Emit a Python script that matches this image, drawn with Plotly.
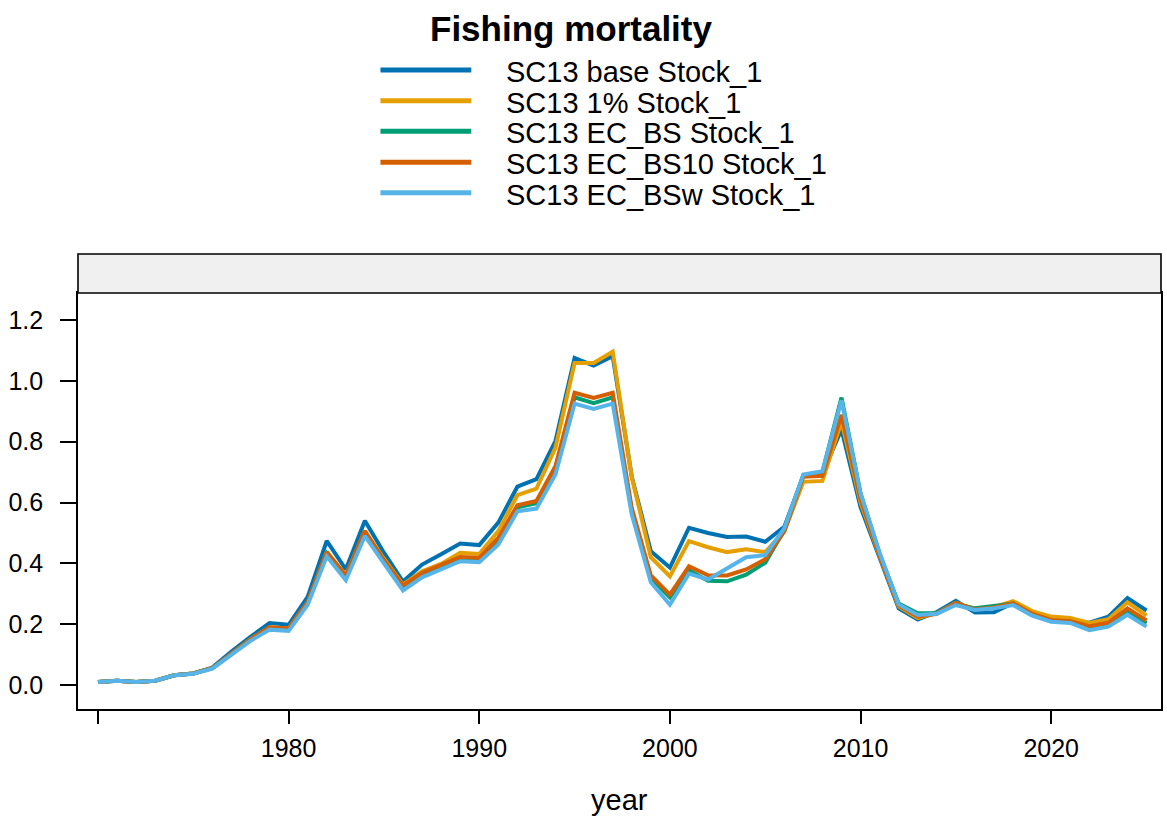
import plotly.graph_objects as go

# Fishing mortality by year for five model runs
years = list(range(1970, 2026))

f_base = [0.010, 0.014, 0.010, 0.014, 0.032, 0.038, 0.057, 0.110, 0.158, 0.204,
          0.198, 0.290, 0.474, 0.380, 0.540, 0.435, 0.340, 0.396, 0.430, 0.465,
          0.460, 0.534, 0.652, 0.677, 0.803, 1.075, 1.050, 1.081, 0.685, 0.440,
          0.386, 0.517, 0.500, 0.487, 0.488, 0.471, 0.520, 0.688, 0.695, 0.840,
          0.585, 0.415, 0.252, 0.215, 0.240, 0.277, 0.238, 0.239, 0.270, 0.240,
          0.210, 0.210, 0.205, 0.225, 0.286, 0.245]

f_1pct = [0.010, 0.014, 0.010, 0.014, 0.032, 0.038, 0.055, 0.105, 0.151, 0.190,
          0.186, 0.272, 0.437, 0.360, 0.506, 0.415, 0.330, 0.374, 0.398, 0.435,
          0.431, 0.506, 0.624, 0.646, 0.781, 1.059, 1.059, 1.096, 0.683, 0.420,
          0.357, 0.473, 0.453, 0.437, 0.446, 0.437, 0.505, 0.668, 0.671, 0.866,
          0.600, 0.425, 0.258, 0.220, 0.236, 0.270, 0.250, 0.256, 0.276, 0.243,
          0.225, 0.220, 0.204, 0.216, 0.272, 0.228]

f_ec_bs = [0.010, 0.014, 0.010, 0.014, 0.032, 0.038, 0.055, 0.103, 0.149, 0.188,
           0.184, 0.270, 0.433, 0.356, 0.502, 0.407, 0.322, 0.364, 0.391, 0.416,
           0.413, 0.477, 0.584, 0.598, 0.712, 0.946, 0.927, 0.946, 0.571, 0.352,
           0.288, 0.377, 0.343, 0.341, 0.363, 0.402, 0.510, 0.690, 0.700, 0.945,
           0.630, 0.430, 0.268, 0.236, 0.236, 0.266, 0.252, 0.260, 0.268, 0.232,
           0.212, 0.207, 0.186, 0.198, 0.241, 0.203]

f_ec_bs10 = [0.010, 0.014, 0.010, 0.014, 0.032, 0.038, 0.055, 0.104, 0.150, 0.190,
             0.186, 0.272, 0.437, 0.360, 0.506, 0.410, 0.327, 0.369, 0.396, 0.421,
             0.418, 0.484, 0.591, 0.605, 0.720, 0.961, 0.944, 0.961, 0.582, 0.360,
             0.297, 0.390, 0.361, 0.360, 0.380, 0.413, 0.505, 0.685, 0.688, 0.888,
             0.612, 0.425, 0.262, 0.225, 0.234, 0.269, 0.248, 0.255, 0.268, 0.234,
             0.214, 0.210, 0.193, 0.205, 0.252, 0.212]

f_ec_bsw = [0.010, 0.014, 0.010, 0.014, 0.032, 0.037, 0.054, 0.100, 0.145, 0.182,
            0.178, 0.264, 0.423, 0.345, 0.490, 0.400, 0.311, 0.354, 0.380, 0.407,
            0.404, 0.462, 0.571, 0.580, 0.693, 0.925, 0.908, 0.925, 0.560, 0.338,
            0.264, 0.366, 0.347, 0.382, 0.420, 0.427, 0.515, 0.692, 0.703, 0.936,
            0.630, 0.435, 0.265, 0.230, 0.234, 0.263, 0.247, 0.252, 0.263, 0.228,
            0.208, 0.204, 0.180, 0.192, 0.231, 0.192]

run_names = ["SC13 base Stock_1", "SC13 1% Stock_1", "SC13 EC_BS Stock_1",
             "SC13 EC_BS10 Stock_1", "SC13 EC_BSw Stock_1"]
run_values = [f_base, f_1pct, f_ec_bs, f_ec_bs10, f_ec_bsw]
run_colors = ["#0072B2", "#E69F00", "#009E73", "#D55E00", "#56B4E9"]

x_tick_vals = [1970, 1980, 1990, 2000, 2010, 2020]
x_tick_text = ["", "1980", "1990", "2000", "2010", "2020"]
y_tick_vals = [0.0, 0.2, 0.4, 0.6, 0.8, 1.0, 1.2]

FONT = "Liberation Sans, Arial, Helvetica, sans-serif"
W, H = 1167, 824
ML, MR, MT, MB = 78, 4, 293, 115
PW, PH = W - ML - MR, H - MT - MB

fig = go.Figure()
for name, vals, col in zip(run_names, run_values, run_colors):
    fig.add_trace(go.Scatter(x=years, y=vals, mode="lines", name=name,
                             line=dict(color=col, width=4),
                             showlegend=False))


def py(px_y):
    """pixel row -> paper y"""
    return (H - MB - px_y) / PH


def px(px_x):
    """pixel column -> paper x"""
    return (px_x - ML) / PW


shapes = []
annotations = []

# strip above the panel
shapes.append(dict(type="rect", xref="paper", yref="paper",
                   x0=0, x1=1, y0=1, y1=py(254),
                   fillcolor="#f0f0f0", line=dict(color="black", width=1.6),
                   layer="above"))

# key: line samples and labels
key_rows = [70, 100.7, 131.3, 162.3, 192.7]
for name, col, ry in zip(run_names, run_colors, key_rows):
    shapes.append(dict(type="line", xref="paper", yref="paper",
                       x0=px(381), x1=px(472), y0=py(ry), y1=py(ry),
                       line=dict(color=col, width=5)))
    annotations.append(dict(xref="paper", yref="paper", x=px(505), y=py(ry + 2),
                            text=name, showarrow=False, xanchor="left",
                            yanchor="middle",
                            font=dict(family=FONT, size=29, color="black")))

# main title
annotations.append(dict(xref="paper", yref="paper", x=px(572), y=py(28),
                        text="<b>Fishing mortality</b>", showarrow=False,
                        xanchor="center", yanchor="middle",
                        font=dict(family=FONT, size=35, color="black")))

# x-axis title
annotations.append(dict(xref="paper", yref="paper", x=px(620), y=py(800),
                        text="year", showarrow=False, xanchor="center",
                        yanchor="middle",
                        font=dict(family=FONT, size=29, color="black")))

fig.update_layout(
    width=W, height=H,
    margin=dict(l=ML, r=MR, t=MT, b=MB, pad=0),
    paper_bgcolor="white", plot_bgcolor="white",
    font=dict(family=FONT, color="black"),
    shapes=shapes, annotations=annotations,
    xaxis=dict(range=[1968.953, 2025.76], tickvals=x_tick_vals,
               ticktext=x_tick_text, ticks="outside", ticklen=13,
               tickwidth=1.5, tickcolor="black", showgrid=False,
               zeroline=False, showline=True, linecolor="black",
               linewidth=1.6, mirror=True,
               tickfont=dict(family=FONT, size=25, color="black"),
               ticklabelstandoff=3),
    yaxis=dict(range=[-0.079, 1.289], tickvals=y_tick_vals,
               tickformat=".1f", ticks="outside", ticklen=16,
               tickwidth=1.5, tickcolor="black", showgrid=False,
               zeroline=False, showline=True, linecolor="black",
               linewidth=1.6, mirror=True,
               tickfont=dict(family=FONT, size=25, color="black"),
               ticklabelstandoff=12),
)

fig.write_html("out.html")
